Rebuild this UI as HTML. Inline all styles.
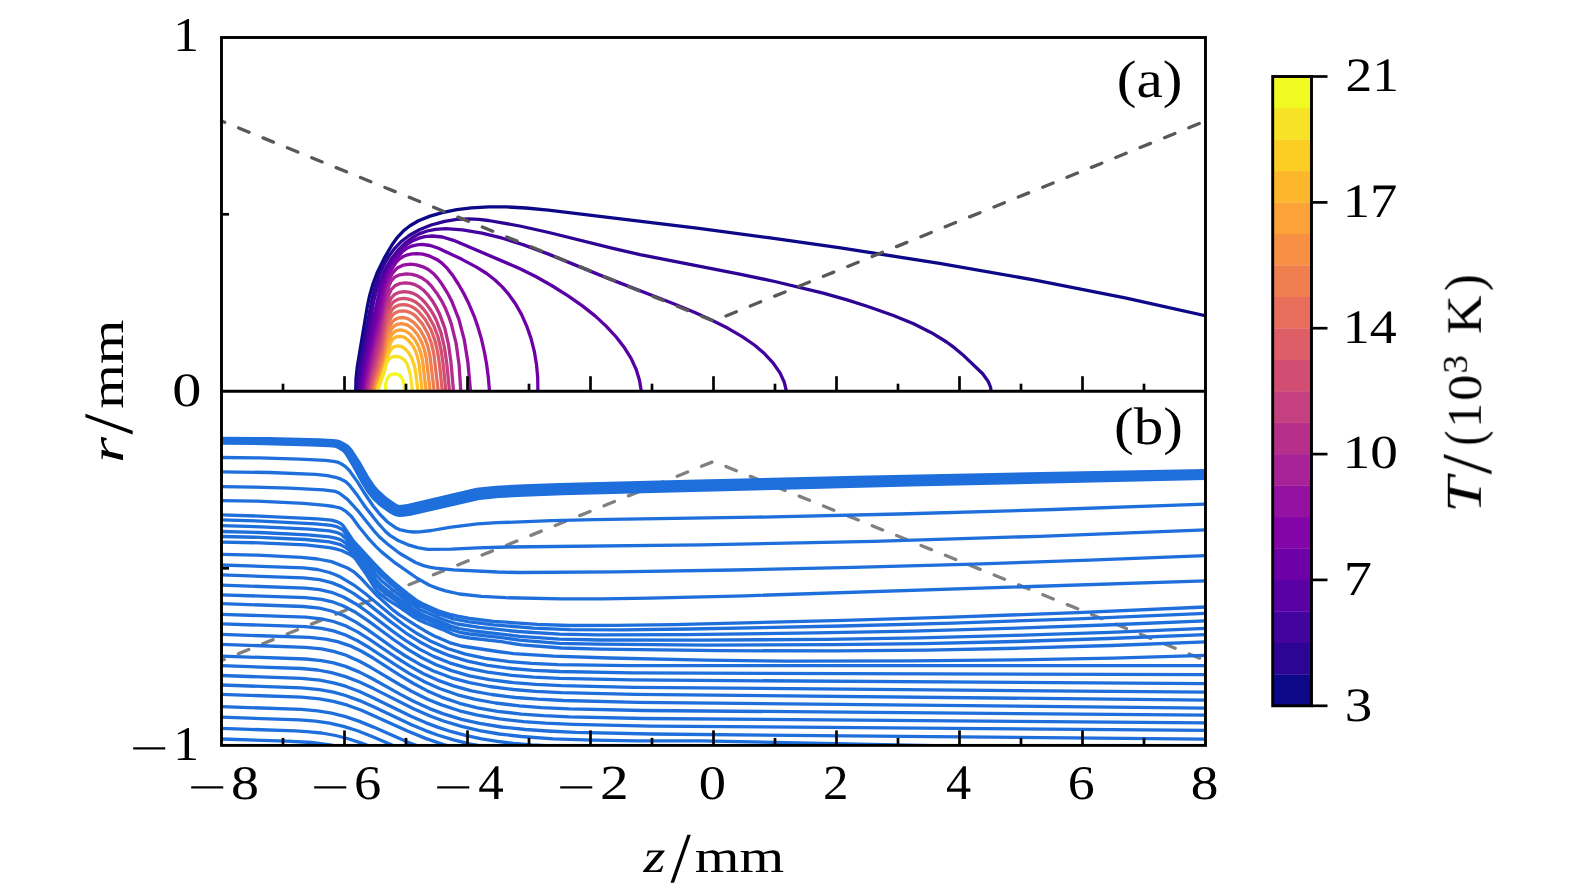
<!DOCTYPE html><html><head><meta charset="utf-8"><style>html,body{margin:0;padding:0;background:#fff;overflow:hidden}svg{display:block}text{font-family:"Liberation Serif",serif;fill:#000;text-rendering:geometricPrecision}</style></head><body>
<svg width="1575" height="896" viewBox="0 0 1575 896">
<defs><clipPath id="ca"><rect x="221.5" y="37.5" width="984" height="353.7"/></clipPath></defs><g clip-path="url(#ca)" fill="none" stroke-width="3.3" stroke-linejoin="round"><path d="M355.7,391.2L356.0,378.8L357.3,366.5L367.1,307.7L369.6,295.6L373.0,283.8L377.4,272.2L384.0,258.6L391.6,245.5L397.4,237.3L404.2,230.2L410.0,225.7L418.5,220.8L430.1,216.1L442.2,212.6L456.8,209.6L471.5,207.8L488.8,206.8L506.1,206.9L525.9,208.0L548.3,210.1L698.9,228.4L770.2,237.9L838.9,247.7L939.5,263.3L1035.0,280.1L1125.1,297.9L1209.9,316.7" stroke="#0d0887"/><path d="M357.5,391.2L357.8,379.3L359.5,365.4L372.4,297.1L375.5,285.6L379.5,274.2L383.7,265.0L388.8,256.3L394.7,248.3L401.6,241.2L409.5,235.3L419.9,229.5L431.1,225.0L444.7,221.3L456.7,219.4L468.8,218.8L478.7,219.3L488.5,220.5L519.7,226.0L548.9,232.5L612.9,248.3L640.0,254.6L739.6,274.1L774.8,281.5L823.2,293.2L846.2,299.6L867.1,306.2L893.4,315.5L913.6,323.8L931.4,332.7L946.6,342.0L954.6,347.9L962.4,354.4L982.7,373.8L988.3,381.6L990.5,387.0L991.2,391.1" stroke="#2c0594"/><path d="M359.0,391.2L359.6,380.8L360.9,370.5L367.2,338.4L373.5,302.3L376.0,292.2L378.8,283.7L385.6,268.3L391.2,259.1L397.6,250.7L404.8,243.3L411.7,238.0L419.1,233.9L427.1,231.0L435.5,229.3L445.8,228.7L462.4,229.8L482.0,233.2L502.4,238.2L523.7,244.9L548.6,254.1L607.4,278.1L673.7,303.7L694.3,312.3L711.9,320.3L728.0,328.3L742.2,336.6L754.4,345.0L764.4,353.6L773.3,363.2L780.0,372.9L784.3,382.3L786.4,391.2" stroke="#43039e"/><path d="M360.5,391.2L364.9,360.6L373.0,320.2L380.0,289.0L382.8,280.3L386.3,271.6L390.7,263.2L395.4,256.3L400.7,250.1L406.6,244.7L412.2,241.1L418.3,238.4L424.7,236.7L432.4,236.0L442.4,237.0L453.5,240.3L519.5,268.4L535.7,276.5L551.6,285.5L568.1,295.9L582.4,305.9L595.1,315.9L606.1,326.1L616.2,337.0L624.5,347.8L631.1,358.4L636.3,369.8L639.6,380.8L641.3,391.2" stroke="#5901a5"/><path d="M362.2,391.3L363.4,379.9L365.5,367.0L373.7,329.9L379.0,303.1L382.7,288.5L387.0,276.1L390.6,268.4L394.4,261.8L398.3,256.3L402.7,251.5L407.0,248.3L411.8,246.1L416.9,244.8L422.2,244.4L430.3,245.5L438.4,248.2L461.4,259.1L476.5,267.1L486.7,273.5L494.7,279.7L502.0,286.6L508.6,294.2L515.6,304.0L521.6,314.6L526.6,325.8L531.0,338.4L534.3,351.3L536.5,364.4L537.7,377.4L537.9,391.2" stroke="#6e00a8"/><path d="M363.7,391.2L365.6,377.5L368.6,361.5L377.3,323.7L383.6,292.7L388.4,276.3L390.8,270.9L393.6,265.9L396.4,262.1L399.6,258.9L403.3,256.5L407.5,254.8L411.9,253.9L416.6,253.6L422.9,254.2L430.0,256.2L436.7,259.4L442.0,263.2L447.3,268.4L452.4,274.9L458.3,284.0L464.0,293.9L469.0,304.1L473.8,315.3L477.8,326.6L481.4,338.9L484.3,351.5L486.6,364.3L488.3,377.2L489.5,391.2" stroke="#8305a7"/><path d="M365.2,391.2L369.7,365.8L379.4,324.2L386.5,289.1L389.1,280.1L392.5,273.0L397.1,268.1L403.0,265.2L410.7,264.2L416.5,264.8L423.0,266.8L428.3,269.5L433.0,273.2L437.6,278.1L442.4,284.8L447.5,293.1L451.9,301.6L458.9,319.3L464.3,339.9L467.9,362.5L470.5,391.2" stroke="#9511a1"/><path d="M366.5,391.1L374.6,352.5L384.4,312.1L387.6,291.6L389.0,285.6L391.4,280.5L394.8,277.1L399.8,274.8L406.4,273.9L412.0,274.4L417.5,275.9L422.5,278.3L426.9,281.5L431.7,286.4L436.6,292.9L441.3,300.3L445.3,308.1L448.7,316.3L451.5,324.6L456.1,343.3L459.1,365.1L460.8,391.2" stroke="#a72197"/><path d="M368.0,391.2L372.0,371.6L382.8,326.9L387.3,300.8L388.9,294.6L391.4,289.3L394.9,285.8L399.4,283.7L405.2,282.9L410.2,283.3L415.0,284.7L419.5,287.1L423.5,290.2L427.9,294.8L432.1,300.4L436.0,306.9L439.6,314.1L444.8,328.1L448.4,344.0L450.9,361.5L453.5,391.2" stroke="#b6308b"/><path d="M369.4,391.2L372.7,375.4L382.1,338.7L387.3,309.1L388.9,302.8L391.3,297.9L394.4,294.6L398.9,292.4L404.2,291.7L408.7,292.1L413.1,293.4L417.2,295.5L421.3,298.7L425.5,303.0L429.8,308.7L433.5,314.6L436.6,320.8L441.1,333.1L444.4,347.2L446.7,362.7L449.5,391.2" stroke="#c5407e"/><path d="M370.6,391.2L373.6,377.5L382.6,343.9L387.6,315.2L389.3,308.7L391.5,304.2L394.4,301.2L398.6,299.1L403.4,298.4L407.6,298.8L411.6,300.0L415.5,301.9L419.4,305.0L423.3,309.0L427.4,314.2L433.7,325.5L437.9,336.5L441.0,349.6L443.1,363.6L445.9,391.2" stroke="#d14e72"/><path d="M371.8,391.3L374.7,379.0L383.4,347.7L388.1,320.3L389.6,314.3L391.7,310.1L394.7,307.1L398.7,305.2L403.2,304.6L407.0,305.0L410.8,306.2L414.3,308.1L418.0,311.0L425.1,319.3L431.0,329.8L434.8,340.1L437.6,351.9L439.5,364.4L442.3,391.2" stroke="#dd5e66"/><path d="M372.9,391.3L375.6,380.3L384.1,351.4L388.4,326.0L389.9,319.9L391.8,316.0L394.6,313.2L398.3,311.4L402.4,310.8L405.9,311.1L409.4,312.2L412.7,313.9L415.7,316.2L422.4,323.9L427.9,333.7L431.3,342.9L433.8,353.8L438.3,391.2" stroke="#e76e5b"/><path d="M374.0,391.3L376.5,381.2L384.6,355.3L388.6,331.9L390.1,326.0L391.9,322.4L394.5,319.8L397.8,318.2L402.0,317.5L405.1,317.9L408.3,318.8L414.0,322.6L420.1,329.7L424.9,338.4L427.8,346.4L430.0,356.2L434.2,391.2" stroke="#f07f4f"/><path d="M375.0,391.3L377.4,382.1L385.1,358.4L389.0,336.6L390.5,331.2L392.2,328.0L394.6,325.7L397.7,324.2L401.4,323.7L407.2,324.9L412.3,328.4L417.8,335.0L421.9,342.6L424.4,349.8L426.3,358.3L430.2,391.2" stroke="#f79044"/><path d="M375.8,391.3L378.1,382.9L385.5,361.2L389.3,341.8L390.6,336.9L392.2,334.0L394.4,331.8L397.1,330.5L400.4,329.9L405.5,331.0L410.1,334.1L414.9,339.7L418.7,346.7L420.9,353.2L422.6,360.7L426.2,391.2" stroke="#fca338"/><path d="M376.6,391.3L378.7,383.8L385.4,364.8L389.1,347.6L390.6,342.9L392.2,340.0L394.1,338.1L396.8,336.7L399.7,336.3L404.1,337.2L408.2,340.1L412.4,345.1L415.6,351.2L417.5,356.8L419.0,363.6L422.2,391.2" stroke="#feb72d"/><path d="M377.2,391.3L379.0,384.8L384.5,370.4L387.5,357.3L389.2,352.4L390.9,349.6L392.9,347.6L395.5,346.3L398.1,345.9L401.8,346.7L405.6,349.4L409.2,353.5L411.9,358.6L413.9,364.1L415.4,370.5L418.0,391.2" stroke="#fccd25"/><path d="M377.5,391.3L382.8,376.4L385.7,365.7L387.4,361.6L388.9,359.3L390.8,357.7L393.2,356.7L395.8,356.3L399.4,356.9L402.6,358.5L405.1,360.8L407.3,364.3L410.0,372.9L412.5,391.1" stroke="#f7e225"/><path d="M385.9,391.2L385.5,384.5L387.2,378.6L388.5,376.6L390.3,375.1L392.5,374.1L394.9,373.8L397.2,374.2L399.4,375.3L401.3,377.1L402.9,379.6L404.5,385.5L404.5,388.5L403.8,391.3" stroke="#f0f921"/></g>
<polyline points="221.5,121.0 713.5,321.0 1205.5,121.0" fill="none" stroke="#585858" stroke-width="3.3" stroke-dasharray="11.2,15.1" stroke-linecap="round" stroke-dashoffset="7.75"/>
<polyline points="221.5,660.5 713.5,461.5 1205.5,660.5" fill="none" stroke="#808080" stroke-width="3.3" stroke-dasharray="11.2,15.1" stroke-linecap="round" stroke-dashoffset="8.13"/>
<defs><clipPath id="cb"><rect x="221.5" y="391.2" width="984.0" height="354.2"/></clipPath></defs><g clip-path="url(#cb)"><path d="M221.5,436.8L268.6,437.1L319.6,438.3L332.9,439.0L337.5,439.6L340.1,440.3L343.7,441.9L348.4,444.8L352.3,448.9L360.8,462.0L369.0,476.5L374.9,485.2L378.7,489.8L387.0,497.3L395.6,503.3L397.9,504.5L399.9,505.0L407.3,504.0L476.4,487.8L496.0,485.8L524.2,484.2L559.3,482.9L698.3,479.4L856.4,475.8L1041.4,471.9L1205.4,469.1L1205.6,480.1L910.6,486.5L562.7,495.3L523.8,496.7L499.0,498.1L479.5,500.0L410.8,515.8L404.1,516.8L399.1,517.0L394.5,515.9L389.4,513.3L378.9,505.7L372.4,499.5L367.1,492.9L361.1,483.6L352.2,467.0L344.7,454.5L342.6,451.9L336.9,448.5L334.8,447.8L329.2,447.2L310.4,446.4L264.4,445.2L221.5,444.8Z" fill="#1e6fdb"/><path d="M221.5,457.5L259.5,457.9L299.5,459.2L325.5,460.4L333.5,461.3L337.5,462.1L341.5,464.0L345.5,466.6L349.5,470.7L357.5,481.9L365.5,494.8L373.5,506.5L379.5,513.8L387.5,522.0L395.5,527.7L399.5,529.6L407.5,531.3L413.5,532.0L419.5,531.8L431.5,530.5L449.5,527.3L477.5,523.8L497.5,522.7L551.5,520.7L593.5,519.6L755.5,517.2L899.5,514.0L1053.5,509.5L1205.5,504.1 M221.5,471.8L269.5,472.5L315.5,474.4L327.5,475.6L335.5,477.3L339.5,478.6L345.5,481.5L349.5,485.3L357.5,495.6L365.5,507.2L377.5,522.5L385.5,531.5L389.5,535.1L397.5,540.2L407.5,544.6L417.5,547.7L427.5,549.4L451.5,549.2L477.5,547.8L507.5,547.0L701.5,544.8L873.5,541.3L1039.5,536.3L1205.5,529.8 M221.5,486.7L253.5,487.1L289.5,488.2L323.5,489.9L335.5,491.4L339.5,493.3L347.5,499.4L357.5,510.3L373.5,530.3L379.5,537.0L387.5,544.0L399.5,553.2L415.5,562.5L423.5,565.6L429.5,567.1L435.5,568.1L453.5,569.9L497.5,572.0L519.5,572.5L615.5,571.9L733.5,570.0L853.5,567.4L973.5,564.1L1089.5,560.2L1205.5,555.6 M221.5,500.6L257.5,501.2L303.5,503.3L325.5,505.4L333.5,506.5L339.5,507.8L341.5,508.6L345.5,511.1L351.5,516.5L359.5,527.5L367.5,537.3L375.5,546.1L381.5,551.9L395.5,563.2L417.5,578.5L429.5,585.3L437.5,588.4L445.5,590.8L459.5,594.0L481.5,596.4L505.5,597.7L561.5,598.9L601.5,598.9L649.5,598.2L745.5,595.8L1205.5,580.8 M221.5,514.8L259.5,516.1L317.5,518.9L331.5,520.2L337.5,521.9L341.5,524.0L343.5,526.2L353.5,541.1L373.5,562.9L383.5,573.2L393.5,582.2L407.5,593.6L417.5,601.0L421.5,603.3L437.5,610.5L449.5,614.4L457.5,616.2L469.5,618.3L493.5,621.3L537.5,624.3L569.5,625.5L615.5,625.4L673.5,624.6L843.5,620.4L951.5,617.2L1077.5,612.6L1205.5,607.0 M221.5,519.8L261.5,521.1L315.5,523.8L331.5,525.3L337.5,526.9L341.5,528.9L343.5,530.8L353.5,544.0L375.5,569.4L381.5,575.6L391.5,584.5L407.5,597.1L417.5,604.3L421.5,606.6L437.5,613.6L453.5,618.9L469.5,621.9L493.5,624.8L533.5,628.1L569.5,629.7L621.5,629.8L689.5,629.0L841.5,626.0L953.5,623.1L1077.5,618.8L1205.5,613.4 M221.5,525.6L261.5,526.8L309.5,529.1L329.5,530.9L337.5,532.7L341.5,534.5L345.5,538.2L359.5,554.2L375.5,574.5L381.5,580.7L391.5,589.1L409.5,602.6L419.5,609.4L439.5,618.0L449.5,621.7L457.5,624.0L479.5,627.4L517.5,631.5L559.5,634.2L597.5,634.9L685.5,634.6L815.5,632.9L911.5,631.1L1007.5,628.4L1105.5,625.0L1205.5,620.8 M221.5,531.5L259.5,532.5L307.5,534.8L329.5,536.9L335.5,538.1L339.5,539.3L341.5,540.2L345.5,543.1L355.5,552.9L365.5,565.8L375.5,579.7L381.5,585.9L389.5,592.4L411.5,608.2L419.5,613.3L425.5,616.0L449.5,625.6L459.5,628.7L473.5,630.9L519.5,636.3L559.5,639.1L599.5,640.0L697.5,640.2L825.5,639.3L919.5,637.8L1013.5,635.4L1109.5,632.3L1205.5,628.3 M221.5,536.5L259.5,537.3L305.5,539.5L329.5,541.9L339.5,544.3L345.5,547.4L351.5,552.0L355.5,555.7L365.5,569.3L375.5,584.1L381.5,590.3L389.5,596.4L413.5,613.0L419.5,616.6L425.5,619.3L451.5,629.8L459.5,632.3L469.5,634.0L501.5,637.6L519.5,640.2L559.5,643.3L597.5,644.2L707.5,645.1L831.5,644.7L923.5,643.6L1015.5,641.5L1109.5,638.5L1205.5,634.7 M221.5,542.1L259.5,542.8L305.5,544.9L329.5,547.6L335.5,548.8L341.5,550.5L349.5,554.2L353.5,556.9L355.5,558.9L365.5,573.2L375.5,589.0L379.5,593.4L387.5,599.6L399.5,607.2L413.5,616.8L419.5,620.2L425.5,623.0L441.5,629.1L453.5,634.5L459.5,636.4L469.5,638.0L501.5,641.7L521.5,644.9L561.5,648.0L599.5,649.1L719.5,650.7L837.5,650.9L927.5,650.1L1019.5,648.2L1111.5,645.5L1205.5,641.8 M221.5,554.4L257.5,555.1L301.5,557.3L317.5,559.0L331.5,561.6L347.5,568.0L353.5,571.6L361.5,578.8L377.5,596.1L393.5,610.4L399.5,614.9L415.5,625.2L425.5,631.2L435.5,636.6L449.5,642.6L461.5,646.0L497.5,651.5L513.5,653.6L553.5,656.2L609.5,658.0L705.5,660.2L787.5,661.1L909.5,660.8L1015.5,659.8L1113.5,658.1L1205.5,655.4 M221.5,565.0L303.5,567.9L317.5,569.5L329.5,572.5L335.5,574.8L341.5,577.6L353.5,584.8L365.5,593.8L391.5,615.2L403.5,624.5L417.5,633.8L431.5,641.6L447.5,648.5L465.5,654.1L485.5,658.4L509.5,661.6L531.5,663.4L557.5,664.6L629.5,665.7L1205.5,665.7 M221.5,574.9L303.5,577.8L319.5,579.6L331.5,582.6L341.5,586.6L353.5,593.4L365.5,601.9L391.5,622.4L405.5,632.8L419.5,641.7L433.5,649.1L449.5,655.7L467.5,661.2L487.5,665.3L511.5,668.5L533.5,670.3L559.5,671.5L631.5,672.9L1205.5,674.7 M221.5,585.1L305.5,588.1L319.5,589.6L331.5,592.3L343.5,597.0L355.5,603.7L367.5,612.0L393.5,631.9L405.5,640.4L419.5,649.1L433.5,656.4L449.5,662.8L467.5,668.1L487.5,672.2L511.5,675.3L533.5,677.1L559.5,678.4L631.5,679.9L1205.5,683.7 M221.5,594.8L305.5,597.7L321.5,599.4L333.5,602.2L343.5,606.0L355.5,612.3L367.5,620.3L393.5,639.5L407.5,649.2L421.5,657.5L435.5,664.5L451.5,670.6L469.5,675.8L489.5,679.7L513.5,682.7L535.5,684.4L561.5,685.7L633.5,687.3L1205.5,692.2 M221.5,603.6L303.5,606.5L319.5,608.2L331.5,611.0L343.5,615.5L355.5,621.9L367.5,629.6L393.5,648.1L405.5,656.0L419.5,664.2L433.5,671.0L451.5,677.8L469.5,682.7L489.5,686.5L513.5,689.5L535.5,691.3L561.5,692.6L635.5,694.4L1205.5,700.1 M221.5,614.3L305.5,617.2L321.5,618.9L333.5,621.5L345.5,625.8L357.5,631.9L369.5,639.3L395.5,657.0L409.5,665.9L423.5,673.7L437.5,680.1L453.5,685.9L471.5,690.8L491.5,694.5L515.5,697.5L537.5,699.2L563.5,700.5L637.5,702.3L1205.5,708.1 M221.5,623.8L305.5,626.7L321.5,628.4L333.5,630.9L345.5,635.0L357.5,640.8L369.5,647.8L397.5,666.2L409.5,673.6L425.5,682.3L439.5,688.5L457.5,694.8L475.5,699.4L495.5,703.0L519.5,705.9L541.5,707.6L569.5,708.9L643.5,710.5L1205.5,715.1 M221.5,634.4L309.5,637.4L325.5,639.1L337.5,641.6L349.5,645.6L361.5,651.3L373.5,658.3L399.5,675.1L413.5,683.5L427.5,690.9L441.5,697.1L459.5,703.3L477.5,707.8L497.5,711.3L521.5,714.1L543.5,715.7L569.5,716.9L643.5,718.5L1205.5,722.8 M221.5,644.4L305.5,647.3L321.5,648.9L333.5,651.3L345.5,655.0L359.5,661.2L371.5,667.8L399.5,684.5L411.5,691.3L427.5,699.2L441.5,704.9L459.5,710.8L477.5,715.2L499.5,718.9L523.5,721.6L545.5,723.2L573.5,724.4L649.5,726.1L1205.5,730.3 M221.5,656.1L305.5,659.0L321.5,660.6L333.5,662.8L345.5,666.4L359.5,672.1L371.5,678.2L399.5,693.9L413.5,701.3L429.5,708.6L443.5,713.9L461.5,719.4L479.5,723.4L501.5,727.0L525.5,729.5L547.5,731.0L575.5,732.3L651.5,734.0L1205.5,739.2 M221.5,665.6L301.5,668.5L317.5,670.0L331.5,672.6L345.5,676.6L359.5,682.0L373.5,688.6L413.5,708.8L429.5,715.8L443.5,721.0L461.5,726.4L479.5,730.6L499.5,734.0L521.5,736.5L553.5,738.8L593.5,740.2L637.5,740.8L701.5,740.9L1117.5,749.4 M221.5,675.5L301.5,678.4L319.5,680.2L333.5,682.8L345.5,686.2L359.5,691.5L373.5,697.9L411.5,716.5L425.5,722.6L437.5,727.1L451.5,731.7L465.5,735.4L481.5,738.8L497.5,741.4L513.5,743.4L531.5,745.0L573.5,747.1L623.5,748.1L699.5,748.3L749.5,749.4 M221.5,685.0L301.5,687.9L319.5,689.6L333.5,692.2L345.5,695.5L359.5,700.6L373.5,706.8L411.5,724.7L425.5,730.6L437.5,735.0L453.5,739.9L469.5,743.8L485.5,746.9L503.5,749.5 M221.5,694.3L301.5,697.2L319.5,698.9L333.5,701.3L347.5,705.2L361.5,710.3L407.5,731.0L425.5,738.4L443.5,744.5L463.5,749.8 M221.5,706.6L301.5,709.4L317.5,710.8L331.5,713.1L345.5,716.6L359.5,721.4L373.5,727.1L407.5,742.1L427.5,749.9 M221.5,717.2L299.5,719.9L315.5,721.2L329.5,723.2L343.5,726.4L357.5,730.8L371.5,736.3L403.5,749.9 M221.5,728.4L295.5,730.9L309.5,731.8L321.5,733.0L335.5,735.5L347.5,738.5L361.5,743.1L379.5,750.1 M221.5,739.0L287.5,741.2L311.5,742.5L331.5,745.1L341.5,747.3L351.5,750.0" fill="none" stroke="#1e6fdb" stroke-width="3.3" stroke-linejoin="round"/></g>
<g stroke="#000" stroke-width="2.9" fill="none" stroke-linecap="square">
<rect x="221.5" y="37.5" width="984.0" height="707.9"/>
<line x1="221.5" y1="391.2" x2="1205.5" y2="391.2"/>
</g>
<g stroke="#000" stroke-width="2.7" fill="none">
<line x1="283.0" y1="391.2" x2="283.0" y2="383.7"/>
<line x1="283.0" y1="745.4" x2="283.0" y2="737.9"/>
<line x1="344.5" y1="391.2" x2="344.5" y2="376.2"/>
<line x1="344.5" y1="745.4" x2="344.5" y2="730.4"/>
<line x1="406.0" y1="391.2" x2="406.0" y2="383.7"/>
<line x1="406.0" y1="745.4" x2="406.0" y2="737.9"/>
<line x1="467.5" y1="391.2" x2="467.5" y2="376.2"/>
<line x1="467.5" y1="745.4" x2="467.5" y2="730.4"/>
<line x1="529.0" y1="391.2" x2="529.0" y2="383.7"/>
<line x1="529.0" y1="745.4" x2="529.0" y2="737.9"/>
<line x1="590.5" y1="391.2" x2="590.5" y2="376.2"/>
<line x1="590.5" y1="745.4" x2="590.5" y2="730.4"/>
<line x1="652.0" y1="391.2" x2="652.0" y2="383.7"/>
<line x1="652.0" y1="745.4" x2="652.0" y2="737.9"/>
<line x1="713.5" y1="391.2" x2="713.5" y2="376.2"/>
<line x1="713.5" y1="745.4" x2="713.5" y2="730.4"/>
<line x1="775.0" y1="391.2" x2="775.0" y2="383.7"/>
<line x1="775.0" y1="745.4" x2="775.0" y2="737.9"/>
<line x1="836.5" y1="391.2" x2="836.5" y2="376.2"/>
<line x1="836.5" y1="745.4" x2="836.5" y2="730.4"/>
<line x1="898.0" y1="391.2" x2="898.0" y2="383.7"/>
<line x1="898.0" y1="745.4" x2="898.0" y2="737.9"/>
<line x1="959.5" y1="391.2" x2="959.5" y2="376.2"/>
<line x1="959.5" y1="745.4" x2="959.5" y2="730.4"/>
<line x1="1021.0" y1="391.2" x2="1021.0" y2="383.7"/>
<line x1="1021.0" y1="745.4" x2="1021.0" y2="737.9"/>
<line x1="1082.5" y1="391.2" x2="1082.5" y2="376.2"/>
<line x1="1082.5" y1="745.4" x2="1082.5" y2="730.4"/>
<line x1="1144.0" y1="391.2" x2="1144.0" y2="383.7"/>
<line x1="1144.0" y1="745.4" x2="1144.0" y2="737.9"/>
<line x1="221.5" y1="214.3" x2="229.0" y2="214.3"/>
<line x1="221.5" y1="568.3" x2="229.0" y2="568.3"/>
</g>
<rect x="1272.7" y="674.33" width="38.8" height="31.76" fill="#0d0887"/>
<rect x="1272.7" y="642.87" width="38.8" height="31.76" fill="#2c0594"/>
<rect x="1272.7" y="611.40" width="38.8" height="31.76" fill="#43039e"/>
<rect x="1272.7" y="579.94" width="38.8" height="31.76" fill="#5901a5"/>
<rect x="1272.7" y="548.47" width="38.8" height="31.76" fill="#6e00a8"/>
<rect x="1272.7" y="517.01" width="38.8" height="31.76" fill="#8305a7"/>
<rect x="1272.7" y="485.54" width="38.8" height="31.76" fill="#9511a1"/>
<rect x="1272.7" y="454.08" width="38.8" height="31.76" fill="#a72197"/>
<rect x="1272.7" y="422.62" width="38.8" height="31.76" fill="#b6308b"/>
<rect x="1272.7" y="391.15" width="38.8" height="31.76" fill="#c5407e"/>
<rect x="1272.7" y="359.69" width="38.8" height="31.76" fill="#d14e72"/>
<rect x="1272.7" y="328.22" width="38.8" height="31.76" fill="#dd5e66"/>
<rect x="1272.7" y="296.75" width="38.8" height="31.76" fill="#e76e5b"/>
<rect x="1272.7" y="265.29" width="38.8" height="31.76" fill="#f07f4f"/>
<rect x="1272.7" y="233.82" width="38.8" height="31.76" fill="#f79044"/>
<rect x="1272.7" y="202.36" width="38.8" height="31.76" fill="#fca338"/>
<rect x="1272.7" y="170.89" width="38.8" height="31.76" fill="#feb72d"/>
<rect x="1272.7" y="139.43" width="38.8" height="31.76" fill="#fccd25"/>
<rect x="1272.7" y="107.97" width="38.8" height="31.76" fill="#f7e225"/>
<rect x="1272.7" y="76.50" width="38.8" height="31.76" fill="#f0f921"/>
<rect x="1272.7" y="76.5" width="38.8" height="629.3" fill="none" stroke="#000" stroke-width="2.9"/>
<g stroke="#000" stroke-width="2.7">
<line x1="1311.5" y1="76.5" x2="1327.5" y2="76.5"/>
<line x1="1311.5" y1="202.4" x2="1327.5" y2="202.4"/>
<line x1="1311.5" y1="328.2" x2="1327.5" y2="328.2"/>
<line x1="1311.5" y1="454.1" x2="1327.5" y2="454.1"/>
<line x1="1311.5" y1="579.9" x2="1327.5" y2="579.9"/>
<line x1="1311.5" y1="705.8" x2="1327.5" y2="705.8"/>
</g>
<text transform="matrix(0.5143 0 0 0.4848 173.17 51.00)" font-size="100">1</text>
<text transform="matrix(0.5833 0 0 0.4794 172.17 406.14)" font-size="100">0</text>
<text transform="matrix(0.6894 0 0 0.4400 129.85 762.84)" font-size="100">−</text>
<text transform="matrix(0.5143 0 0 0.4848 173.17 760.00)" font-size="100">1</text>
<text transform="matrix(0.6894 0 0 0.4400 187.75 801.74)" font-size="100">−</text>
<text transform="matrix(0.5595 0 0 0.4824 231.06 798.64)" font-size="100">8</text>
<text transform="matrix(0.6894 0 0 0.4400 310.75 801.74)" font-size="100">−</text>
<text transform="matrix(0.5465 0 0 0.4824 354.11 798.64)" font-size="100">6</text>
<text transform="matrix(0.6894 0 0 0.4400 433.75 801.74)" font-size="100">−</text>
<text transform="matrix(0.5109 0 0 0.4970 478.28 799.10)" font-size="100">4</text>
<text transform="matrix(0.6894 0 0 0.4400 556.75 801.74)" font-size="100">−</text>
<text transform="matrix(0.5732 0 0 0.4896 600.01 799.11)" font-size="100">2</text>
<text transform="matrix(0.5452 0 0 0.4824 698.87 798.64)" font-size="100">0</text>
<text transform="matrix(0.5098 0 0 0.4896 823.01 799.11)" font-size="100">2</text>
<text transform="matrix(0.5043 0 0 0.4970 945.89 799.10)" font-size="100">4</text>
<text transform="matrix(0.5395 0 0 0.4824 1067.74 798.64)" font-size="100">6</text>
<text transform="matrix(0.5524 0 0 0.4824 1190.69 798.64)" font-size="100">8</text>
<text transform="matrix(0.5641 0 0 0.4696 643.56 872.00)" font-size="100" font-style="italic">z</text>
<text transform="matrix(0.7321 0 0 0.7164 670.50 882.37)" font-size="100">/</text>
<text transform="matrix(0.5743 0 0 0.4596 694.85 872.00)" font-size="100">mm</text>
<text transform="matrix(0.5922 0 0 0.5300 1116.73 97.47)" font-size="100">(a)</text>
<text transform="matrix(0.5898 0 0 0.5300 1114.04 443.57)" font-size="100">(b)</text>
<text transform="matrix(0.5344 0 0 0.4806 1345.46 91.22)" font-size="100">21</text>
<text transform="matrix(0.5466 0 0 0.4806 1342.68 217.08)" font-size="100">17</text>
<text transform="matrix(0.5404 0 0 0.4806 1342.74 342.94)" font-size="100">14</text>
<text transform="matrix(0.5529 0 0 0.4735 1342.62 468.33)" font-size="100">10</text>
<text transform="matrix(0.5650 0 0 0.4879 1343.64 594.65)" font-size="100">7</text>
<text transform="matrix(0.5512 0 0 0.4806 1344.84 720.52)" font-size="100">3</text>
<g transform="translate(122.9,460.4) rotate(-90)">
<text transform="matrix(0.6686 0 0 0.4681 -2.67 0.00)" font-size="100" font-style="italic">r</text>
<text transform="matrix(0.7464 0 0 0.7075 25.80 9.19)" font-size="100">/</text>
<text transform="matrix(0.5730 0 0 0.4681 51.65 0.00)" font-size="100">mm</text>
</g>
<defs><filter id="gf" x="-20%" y="-20%" width="140%" height="140%"><feComponentTransfer><feFuncA type="identity"/></feComponentTransfer></filter></defs><g transform="translate(1480.8,508.3) rotate(-90)" filter="url(#gf)">
<text transform="matrix(0.6444 0 0 0.5046 -4.51 0.00)" font-size="100" font-style="italic">T</text>
<text transform="matrix(0.7250 0 0 0.7119 34.10 10.48)" font-size="100">/</text>
<text transform="matrix(0.4462 0 0 0.5400 62.82 0.96)" font-size="100">(</text>
<text transform="matrix(0.4971 0 0 0.4833 80.43 0.00)" font-size="100">1</text>
<text transform="matrix(0.5238 0 0 0.4794 107.50 -0.26)" font-size="100">0</text>
<text transform="matrix(0.3707 0 0 0.3463 134.85 -14.15)" font-size="100">3</text>
<text transform="matrix(0.5338 0 0 0.4955 174.30 -0.50)" font-size="100">K</text>
<text transform="matrix(0.5038 0 0 0.5400 217.19 0.96)" font-size="100">)</text>
</g>
</svg></body></html>
